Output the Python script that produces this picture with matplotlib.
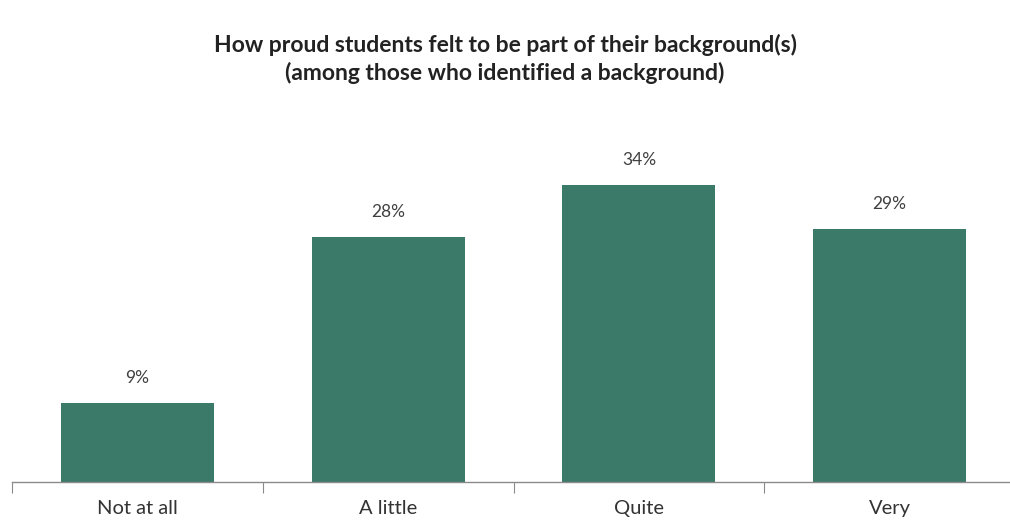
import matplotlib
matplotlib.use("Agg")
import matplotlib.pyplot as plt
import numpy as np

categories = ["Not at all", "A little", "Quite", "Very"]
values = [9, 28, 34, 29]
labels = ["9%", "28%", "34%", "29%"]
title_lines = ["How proud students felt to be part of their background(s)",
               "(among those who identified a background)"]

plt.rcParams['font.family'] = ['Lato', 'DejaVu Sans']

W, H = 1010, 527
fig = plt.figure(figsize=(W/100, H/100), dpi=100)
ax_left = 12 / W
ax_bottom = (H - 482) / H
ax_top_px = 150
ax = fig.add_axes([ax_left, ax_bottom, 1 - ax_left, (482 - ax_top_px) / H])

x = np.arange(len(categories))
ax.bar(x, values, width=0.61, color="#3b7a69", zorder=2)
for xi, v, lab in zip(x, values, labels):
    ax.annotate(lab, (xi, v), xytext=(0, 18), textcoords="offset points",
                ha="center", va="center", fontsize=12.5, color="#404040")

ax.set_xlim(-0.5, 3.48)
ax.set_ylim(0, 332 / 8.74)
ax.set_yticks([])
for s in ["top", "right", "left"]:
    ax.spines[s].set_visible(False)
ax.spines["bottom"].set_color("#8a8a8a")
ax.spines["bottom"].set_linewidth(1.0)

ax.set_xticks(np.arange(-0.5, 3.5, 1.0))
ax.set_xticklabels([])
ax.tick_params(axis="x", which="major", length=8, color="#8a8a8a", direction="out")
ax.set_xticks(x, minor=True)
ax.set_xticklabels(categories, minor=True, fontsize=14.5, color="#333333")
ax.tick_params(axis="x", which="minor", length=0, pad=13)

fig.text(0.5, 1 - 45 / H, title_lines[0], ha="center", va="center", fontsize=16.5,
         fontweight="bold", color="#222222")
fig.text(0.5, 1 - 73 / H, title_lines[1], ha="center", va="center", fontsize=16.5,
         fontweight="bold", color="#222222")

fig.savefig("out.png", dpi=100)
